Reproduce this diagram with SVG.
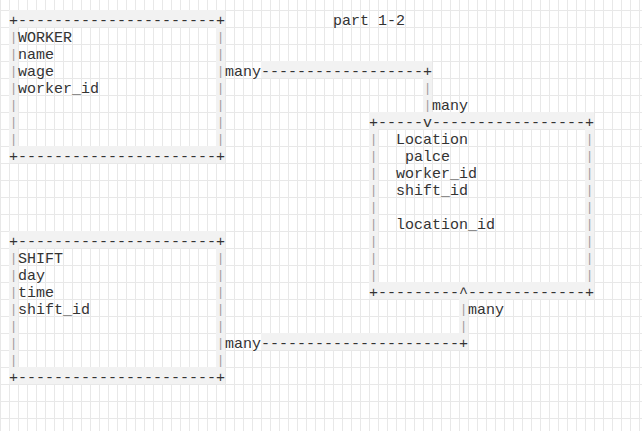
<svg xmlns="http://www.w3.org/2000/svg" width="642" height="431" viewBox="0 0 642 431">
<style>
text { font-family: "Liberation Mono", "Courier New", monospace; font-size: 15px; fill: #333; white-space: pre; }
.bar { fill: #999; font-size: 12px; }
.hl { fill: #f2f2f2; }
</style>
<defs>
<pattern id="grid" x="0" y="10" width="9" height="17" patternUnits="userSpaceOnUse">
<rect x="0" y="0" width="1" height="17" fill="#e8e8e8"/>
<rect x="0" y="0" width="9" height="1" fill="#e8e8e8"/>
</pattern>
</defs>
<rect width="642" height="431" fill="#ffffff"/>
<rect width="642" height="431" fill="url(#grid)"/>

<text id="title" x="333" y="25">part 1-2</text>

<g id="worker">
<rect class="hl" x="9" y="10" width="216" height="17"/>
<rect class="hl" x="9" y="146" width="216" height="17"/>
<rect class="hl" x="9" y="27" width="9" height="119"/>
<rect class="hl" x="216" y="27" width="9" height="119"/>
<text x="9" y="25">+----------------------+</text>
<text x="9" y="161">+----------------------+</text>
<text class="bar"><tspan x="10" y="41">|</tspan><tspan x="10" y="58">|</tspan><tspan x="10" y="75">|</tspan><tspan x="10" y="92">|</tspan><tspan x="10" y="109">|</tspan><tspan x="10" y="126">|</tspan><tspan x="10" y="143">|</tspan></text>
<text class="bar"><tspan x="217" y="41">|</tspan><tspan x="217" y="58">|</tspan><tspan x="217" y="75">|</tspan><tspan x="217" y="92">|</tspan><tspan x="217" y="109">|</tspan><tspan x="217" y="126">|</tspan><tspan x="217" y="143">|</tspan></text>
<text x="18" y="42">WORKER</text>
<text x="18" y="59">name</text>
<text x="18" y="76">wage</text>
<text x="18" y="93">worker_id</text>
</g>

<g id="location">
<rect class="hl" x="369" y="112" width="225" height="17"/>
<rect class="hl" x="369" y="282" width="225" height="17"/>
<rect class="hl" x="369" y="129" width="9" height="153"/>
<rect class="hl" x="585" y="129" width="9" height="153"/>
<text x="369" y="127">+-----v-----------------+</text>
<text x="369" y="297">+---------^-------------+</text>
<text class="bar"><tspan x="370" y="143">|</tspan><tspan x="370" y="160">|</tspan><tspan x="370" y="177">|</tspan><tspan x="370" y="194">|</tspan><tspan x="370" y="211">|</tspan><tspan x="370" y="228">|</tspan><tspan x="370" y="245">|</tspan><tspan x="370" y="262">|</tspan><tspan x="370" y="279">|</tspan></text>
<text class="bar"><tspan x="586" y="143">|</tspan><tspan x="586" y="160">|</tspan><tspan x="586" y="177">|</tspan><tspan x="586" y="194">|</tspan><tspan x="586" y="211">|</tspan><tspan x="586" y="228">|</tspan><tspan x="586" y="245">|</tspan><tspan x="586" y="262">|</tspan><tspan x="586" y="279">|</tspan></text>
<text x="396" y="144">Location</text>
<text x="405" y="161">palce</text>
<text x="396" y="178">worker_id</text>
<text x="396" y="195">shift_id</text>
<text x="396" y="229">location_id</text>
</g>

<g id="shift">
<rect class="hl" x="9" y="231" width="216" height="17"/>
<rect class="hl" x="9" y="367" width="216" height="17"/>
<rect class="hl" x="9" y="248" width="9" height="119"/>
<rect class="hl" x="216" y="248" width="9" height="119"/>
<text x="9" y="246">+----------------------+</text>
<text x="9" y="382">+----------------------+</text>
<text class="bar"><tspan x="10" y="262">|</tspan><tspan x="10" y="279">|</tspan><tspan x="10" y="296">|</tspan><tspan x="10" y="313">|</tspan><tspan x="10" y="330">|</tspan><tspan x="10" y="347">|</tspan><tspan x="10" y="364">|</tspan></text>
<text class="bar"><tspan x="217" y="262">|</tspan><tspan x="217" y="279">|</tspan><tspan x="217" y="296">|</tspan><tspan x="217" y="313">|</tspan><tspan x="217" y="330">|</tspan><tspan x="217" y="347">|</tspan><tspan x="217" y="364">|</tspan></text>
<text x="18" y="263">SHIFT</text>
<text x="18" y="280">day</text>
<text x="18" y="297">time</text>
<text x="18" y="314">shift_id</text>
</g>

<g id="connectors">
<g id="worker-location">
<rect class="hl" x="261" y="61" width="171" height="17"/>
<rect class="hl" x="423" y="78" width="9" height="34"/>
<text x="261" y="76">------------------+</text>
<text class="bar"><tspan x="424" y="92">|</tspan><tspan x="424" y="109">|</tspan></text>
<text x="225" y="76">many</text>
<text x="432" y="110">many</text>
</g>
<g id="shift-location">
<rect class="hl" x="459" y="299" width="9" height="34"/>
<rect class="hl" x="261" y="333" width="207" height="17"/>
<text class="bar"><tspan x="460" y="313">|</tspan><tspan x="460" y="330">|</tspan></text>
<text x="261" y="348">----------------------+</text>
<text x="468" y="314">many</text>
<text x="225" y="348">many</text>
</g>
</g>
</svg>
